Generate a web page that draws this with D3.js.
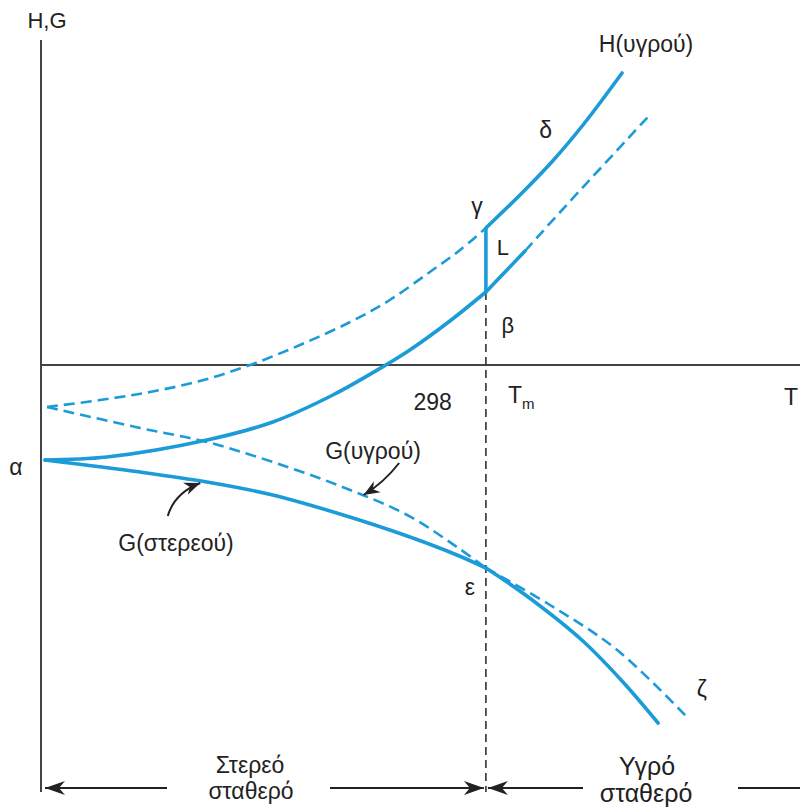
<!DOCTYPE html>
<html>
<head>
<meta charset="utf-8">
<script src="https://cdn.jsdelivr.net/npm/d3@7"></script>
<style>
  body { margin: 0; background: #fff; }
  svg text { font-family: "Liberation Sans", Arial, Helvetica, sans-serif; fill: #222; }
</style>
</head>
<body>
<div id="chart"></div>
<script>
// temperature in units of Tm, H and G in arbitrary units
const T_MAX = 1.706;
const V_MIN = -4.27, V_MAX = 3.25;
const Tm = 1.0;

// H of the solid, stable part up to Tm, short superheated part, then metastable
const hSolid = [[0.009, -0.95], [0.148, -0.92], [0.373, -0.75], [0.521, -0.57], [0.656, -0.30],
    [0.775, 0.0], [0.829, 0.15], [0.919, 0.44], [1.0, 0.73]];
const hSolidSuper = [[1.0, 0.73], [1.043, 0.93], [1.088, 1.14]];
const hSolidMeta = [[1.088, 1.14], [1.167, 1.53], [1.256, 1.96], [1.364, 2.48]];

// H of the liquid, undercooled below Tm, stable above
const hLiquidMeta = [[0.0135, -0.42], [0.133, -0.35], [0.245, -0.27], [0.357, -0.16], [0.470, 0.0],
    [0.582, 0.20], [0.695, 0.43], [0.784, 0.65], [0.874, 0.93], [0.942, 1.15], [1.0, 1.37]];
const hLiquid = [[1.0, 1.37], [1.08, 1.715], [1.15, 2.04], [1.22, 2.41], [1.306, 2.92]];

// G of the solid
const gSolid = [[0.009, -0.95], [0.2225, -1.07], [0.373, -1.17], [0.521, -1.30], [0.672, -1.49],
    [0.823, -1.71], [0.935, -1.90], [1.0, -2.03]];
const gSolidMeta = [[1.0, -2.03], [1.144, -2.40], [1.295, -2.85], [1.454, -3.53]];

// G of the liquid
const gLiquidMeta = [[0.0135, -0.42], [0.2225, -0.63], [0.373, -0.77], [0.521, -0.97], [0.672, -1.21],
    [0.823, -1.50], [0.935, -1.82], [1.0, -2.03]];
const gLiquid = [[1.0, -2.03], [1.092, -2.31], [1.218, -2.76], [1.308, -3.17], [1.387, -3.58]];

const width = 800, height = 809;
const blue = '#1b9bd7';

let svg = d3.select('#chart').append('svg')
    .attr('width', width)
    .attr('height', height);

let x = d3.scaleLinear().domain([0, T_MAX]).range([41, 800]);
let y = d3.scaleLinear().domain([V_MIN, V_MAX]).range([792, 40]);

let defs = svg.append('defs');
defs.append('marker')
    .attr('id', 'big-arrow')
    .attr('markerUnits', 'userSpaceOnUse')
    .attr('markerWidth', 24).attr('markerHeight', 18)
    .attr('viewBox', '-20 -9 24 18')
    .attr('refX', 0).attr('refY', 0)
    .attr('orient', 'auto-start-reverse')
    .append('path')
    .attr('d', 'M0,0 L-20,-7 L-14,0 L-20,7 Z')
    .attr('fill', '#222');
defs.append('marker')
    .attr('id', 'small-arrow')
    .attr('markerUnits', 'userSpaceOnUse')
    .attr('markerWidth', 20).attr('markerHeight', 16)
    .attr('viewBox', '-17 -8 20 16')
    .attr('refX', 0).attr('refY', 0)
    .attr('orient', 'auto')
    .append('path')
    .attr('d', 'M0,0 L-16,-6.5 L-11,0 L-16,6.5 Z')
    .attr('fill', '#222');

// axes
svg.append('line')
    .attr('x1', x(0)).attr('x2', x(0))
    .attr('y1', y(V_MAX)).attr('y2', y(V_MIN))
    .attr('stroke', '#444').attr('stroke-width', 2);
svg.append('line')
    .attr('x1', x(0)).attr('x2', x(T_MAX))
    .attr('y1', y(0)).attr('y2', y(0))
    .attr('stroke', '#444').attr('stroke-width', 2);

// melting temperature
svg.append('line')
    .attr('x1', x(Tm)).attr('x2', x(Tm))
    .attr('y1', y(0.73)).attr('y2', y(V_MIN))
    .attr('stroke', '#333').attr('stroke-width', 1.6)
    .attr('stroke-dasharray', '8,5');

let line = d3.line()
    .x(d => x(d[0]))
    .y(d => y(d[1]))
    .curve(d3.curveCatmullRom.alpha(0.5));

let series = [
    { data: hSolid, dashed: false },
    { data: hSolidSuper, dashed: false },
    { data: hSolidMeta, dashed: true },
    { data: hLiquidMeta, dashed: true },
    { data: hLiquid, dashed: false },
    { data: gSolid, dashed: false },
    { data: gSolidMeta, dashed: true },
    { data: gLiquidMeta, dashed: true },
    { data: gLiquid, dashed: false }
];

svg.append('g')
    .selectAll('path')
    .data(series)
    .join('path')
    .attr('d', d => line(d.data))
    .attr('fill', 'none')
    .attr('stroke', blue)
    .attr('stroke-width', d => d.dashed ? 2.6 : 3.6)
    .attr('stroke-dasharray', d => d.dashed ? '11,6' : null)
    .attr('stroke-linecap', d => d.dashed ? 'butt' : 'round');

// latent heat jump L
svg.append('line')
    .attr('x1', x(Tm)).attr('x2', x(Tm))
    .attr('y1', y(hLiquid[0][1])).attr('y2', y(hSolid[hSolid.length - 1][1]))
    .attr('stroke', blue).attr('stroke-width', 3.6);

function label(txt, px, py, size, anchor) {
    return svg.append('text')
        .attr('x', px).attr('y', py)
        .attr('font-size', size)
        .attr('text-anchor', anchor || 'middle')
        .text(txt);
}

label('H,G', x(0) + 6, 28, 22);
label('H(υγρού)', x(1.306) + 24, 52, 23);
label('δ', x(1.15) - 7, y(2.04) - 23, 23);
label('γ', x(Tm) - 9, y(1.37) - 14, 23);
label('L', x(Tm) + 17, y(1.05) - 5, 22);
label('β', x(Tm) + 22, y(0.73) + 41, 22);
label('298', x(Tm) - 34, 410, 23, 'end');
label('T', x(T_MAX) - 2, 405, 23, 'end');
let tm = label('T', x(Tm) + 22, 403, 23, 'start');
tm.append('tspan').attr('font-size', 15).attr('dy', 6).text('m');
label('α', x(0) - 25, y(-0.95) + 15, 23);
label('G(υγρού)', 373, 459, 23);
label('G(στερεού)', 176, 551, 23);
label('ε', x(Tm) - 16, y(-2.03) + 27, 23);
label('ζ', x(1.454) + 14, y(-3.53) - 21, 23);

// pointers to the G curves
svg.append('path')
    .attr('d', `M${x(0.805)},${y(-0.98)} Q${x(0.77)},${y(-1.18)} ${x(0.725)},${y(-1.30)}`)
    .attr('fill', 'none').attr('stroke', '#222').attr('stroke-width', 2)
    .attr('marker-end', 'url(#small-arrow)');
svg.append('path')
    .attr('d', `M${x(0.285)},${y(-1.51)} Q${x(0.3)},${y(-1.28)} ${x(0.358)},${y(-1.18)}`)
    .attr('fill', 'none').attr('stroke', '#222').attr('stroke-width', 2)
    .attr('marker-end', 'url(#small-arrow)');

// phase ranges along the bottom
let yb = 788;
svg.append('line')
    .attr('x1', x(0) + 4).attr('x2', 167).attr('y1', yb).attr('y2', yb)
    .attr('stroke', '#222').attr('stroke-width', 2)
    .attr('marker-start', 'url(#big-arrow)');
svg.append('line')
    .attr('x1', 330).attr('x2', x(Tm) - 2).attr('y1', yb).attr('y2', yb)
    .attr('stroke', '#222').attr('stroke-width', 2)
    .attr('marker-end', 'url(#big-arrow)');
svg.append('line')
    .attr('x1', x(Tm) + 2).attr('x2', 583).attr('y1', yb).attr('y2', yb)
    .attr('stroke', '#222').attr('stroke-width', 2)
    .attr('marker-start', 'url(#big-arrow)');
svg.append('line')
    .attr('x1', 738).attr('x2', x(T_MAX)).attr('y1', yb).attr('y2', yb)
    .attr('stroke', '#222').attr('stroke-width', 2);

label('Στερεό', 250, 773, 23);
label('σταθερό', 251, 799, 23);
label('Υγρό', 647, 775, 25);
label('σταθερό', 646, 802, 25);
</script>
</body>
</html>
